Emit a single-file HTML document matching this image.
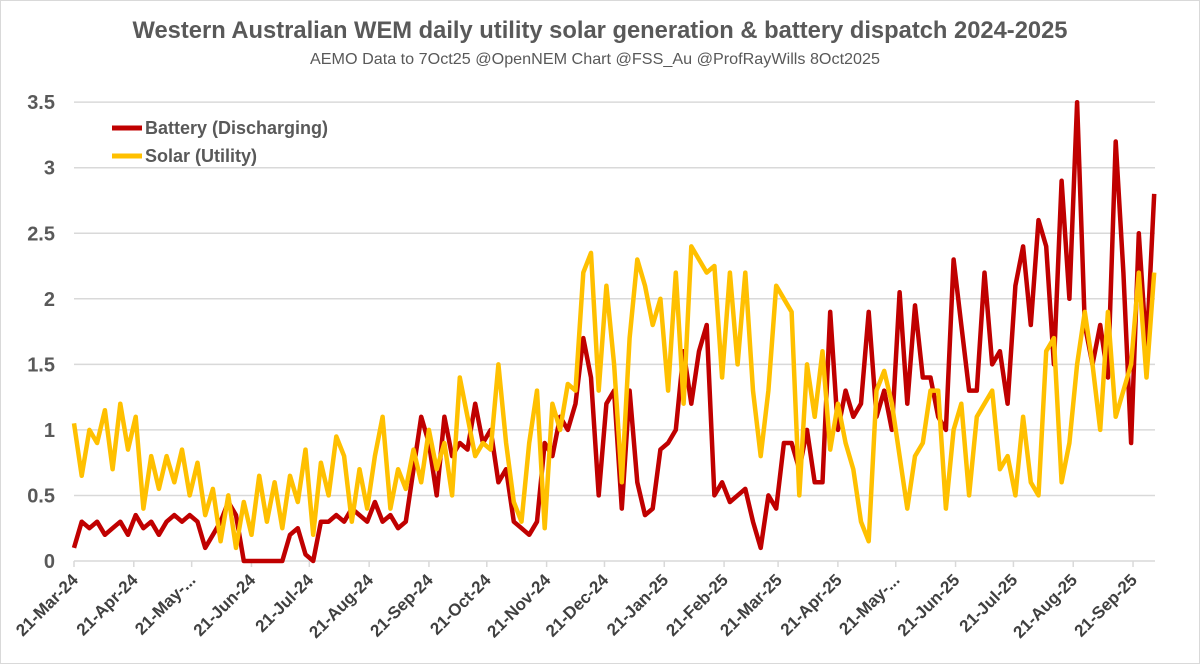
<!DOCTYPE html>
<html><head><meta charset="utf-8"><style>
body{margin:0;background:#fff;}
svg{display:block;font-family:"Liberation Sans",sans-serif;}
</style></head><body>
<svg id="chart" width="1200" height="664" viewBox="0 0 1200 664">
<rect x="0.5" y="0.5" width="1199" height="663" fill="#fff" stroke="#d9d9d9"/>
<text x="600" y="38" text-anchor="middle" font-size="24" font-weight="bold" fill="#595959" textLength="935" lengthAdjust="spacingAndGlyphs">Western Australian WEM daily utility solar generation &amp; battery dispatch 2024-2025</text>
<text x="595" y="64" text-anchor="middle" font-size="16" fill="#595959" textLength="570" lengthAdjust="spacingAndGlyphs">AEMO Data to 7Oct25 @OpenNEM Chart @FSS_Au @ProfRayWills 8Oct2025</text>
<g id="grid"></g>
<g id="yaxis"></g>
<g id="xaxis"></g>
<g id="series"></g>
<g>
<g>
<line x1="112" y1="128" x2="142" y2="128" stroke="#C00000" stroke-width="5"/>
<text x="145" y="134" font-size="18" font-weight="bold" fill="#595959">Battery (Discharging)</text></g>
<g>
<line x1="112" y1="156" x2="142" y2="156" stroke="#FFC000" stroke-width="5"/>
<text x="145" y="162" font-size="18" font-weight="bold" fill="#595959">Solar (Utility)</text></g>
</g>
</svg>
<script>
const dayStep = 4;
const battery = [0.1,0.3,0.25,0.3,0.2,0.25,0.3,0.2,0.35,0.25,0.3,0.2,0.3,0.35,0.3,0.35,0.3,0.1,0.2,0.3,0.45,0.35,0,0,0,0,0,0,0.2,0.25,0.05,0,0.3,0.3,0.35,0.3,0.4,0.35,0.3,0.45,0.3,0.35,0.25,0.3,0.7,1.1,0.9,0.5,1.1,0.8,0.9,0.85,1.2,0.9,1.0,0.6,0.7,0.3,0.25,0.2,0.3,0.9,0.8,1.1,1.0,1.2,1.7,1.4,0.5,1.2,1.3,0.4,1.3,0.6,0.35,0.4,0.85,0.9,1.0,1.6,1.2,1.6,1.8,0.5,0.6,0.45,0.5,0.55,0.3,0.1,0.5,0.4,0.9,0.9,0.7,1.0,0.6,0.6,1.9,1.0,1.3,1.1,1.2,1.9,1.1,1.3,1.0,2.05,1.2,1.95,1.4,1.4,1.1,1.0,2.3,1.8,1.3,1.3,2.2,1.5,1.6,1.2,2.1,2.4,1.8,2.6,2.4,1.5,2.9,2.0,3.5,1.8,1.5,1.8,1.4,3.2,2.2,0.9,2.5,1.6,2.8];
const solar = [1.05,0.65,1.0,0.9,1.15,0.7,1.2,0.85,1.1,0.4,0.8,0.55,0.8,0.6,0.85,0.5,0.75,0.35,0.55,0.15,0.5,0.1,0.45,0.2,0.65,0.3,0.6,0.25,0.65,0.45,0.85,0.2,0.75,0.5,0.95,0.8,0.3,0.7,0.4,0.8,1.1,0.4,0.7,0.55,0.85,0.6,1.0,0.7,0.9,0.5,1.4,1.1,0.8,0.9,0.85,1.5,0.9,0.45,0.3,0.9,1.3,0.25,1.2,1.0,1.35,1.3,2.2,2.35,1.3,2.1,1.5,0.6,1.7,2.3,2.1,1.8,2.0,1.3,2.2,1.2,2.4,2.3,2.2,2.25,1.4,2.2,1.5,2.2,1.3,0.8,1.3,2.1,2.0,1.9,0.5,1.5,1.1,1.6,0.85,1.2,0.9,0.7,0.3,0.15,1.3,1.45,1.2,0.8,0.4,0.8,0.9,1.3,1.3,0.4,1.0,1.2,0.5,1.1,1.2,1.3,0.7,0.8,0.5,1.1,0.6,0.5,1.6,1.7,0.6,0.9,1.5,1.9,1.5,1.0,1.9,1.1,1.3,1.5,2.2,1.4,2.2];
const yTicks = [0,0.5,1,1.5,2,2.5,3,3.5];
const yTickLabels = ["0","0.5","1","1.5","2","2.5","3","3.5"];
const xTickDays = [0,31,61,92,122,153,184,214,245,275,306,337,365,396,426,457,487,518,549];
const xTickLabels = ["21-Mar-24","21-Apr-24","21-May-...","21-Jun-24","21-Jul-24","21-Aug-24","21-Sep-24","21-Oct-24","21-Nov-24","21-Dec-24","21-Jan-25","21-Feb-25","21-Mar-25","21-Apr-25","21-May-...","21-Jun-25","21-Jul-25","21-Aug-25","21-Sep-25"];
const NS='http://www.w3.org/2000/svg';
const X0=74, PX=1.929, Y0=561, PY=131.1, XEND=1155;
const xs = d => X0 + d*PX;
const ys = v => Y0 - v*PY;
function mk(tag, attrs, parent){const e=document.createElementNS(NS,tag);for(const k in attrs)e.setAttribute(k,attrs[k]);parent.appendChild(e);return e;}
const grid=document.getElementById('grid'), ya=document.getElementById('yaxis'), xa=document.getElementById('xaxis'), ser=document.getElementById('series');
yTicks.forEach((t,i)=>{
  const l=mk('line',{x1:X0,x2:XEND,y1:ys(t),y2:ys(t),stroke:'#d9d9d9','stroke-width':1.5},grid);
  
  
  const tx=mk('text',{x:55,y:ys(t)+7,'text-anchor':'end','font-size':20,'font-weight':'bold',fill:'#595959'},ya);
  tx.textContent=yTickLabels[i];
  
  
});
xTickDays.forEach((d,i)=>{
  const x=xs(d);
  const tk=mk('line',{x1:x,x2:x,y1:Y0,y2:Y0+6,stroke:'#d9d9d9','stroke-width':1.5},xa);
  
  
  const tx=mk('text',{x:x+5,y:Y0+20,'text-anchor':'end','font-size':17,'font-weight':'bold',fill:'#404040',transform:`rotate(-45 ${x+5} ${Y0+20})`},xa);
  tx.textContent=xTickLabels[i];
  
  
});
function line(vals,color,name){
  const pts=vals.map((v,i)=>xs(i*dayStep).toFixed(1)+','+ys(v).toFixed(1)).join(' ');
  const p=mk('polyline',{points:pts,fill:'none',stroke:color,'stroke-width':4.5,'stroke-linejoin':'round'},ser);
  
  
}
line(battery,'#C00000','battery-line');
line(solar,'#FFC000','solar-line');
</script>
</body></html>
